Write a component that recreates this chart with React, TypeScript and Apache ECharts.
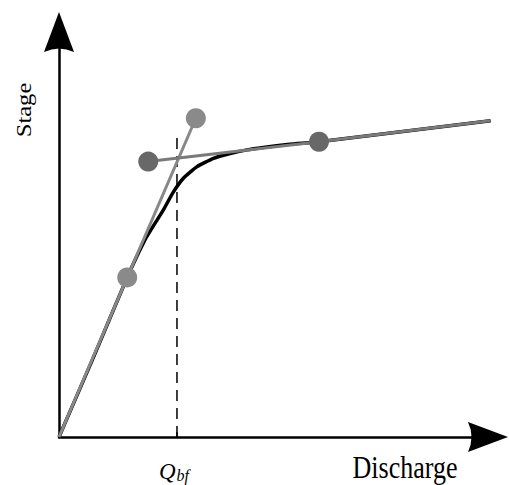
import React, { useEffect, useRef } from "react";
import * as echarts from "echarts";

// Rating curve (stage vs discharge), arbitrary units 0..100
const curveQ = [0, 8.0, 15.9, 20.0, 22.4, 24.3, 26.6, 29.0, 32.1, 36.0, 39.9, 43.8, 47.6, 53.8, 60.6, 100.6];
const curveH = [0, 19.6, 39.4, 48.6, 52.8, 56.0, 60.4, 63.9, 66.7, 68.8, 70.0, 70.9, 71.5, 72.3, 72.9, 78.1];

// In-channel tangent line (origin -> two marked points)
const steepQ = [0, 15.9, 31.9];
const steepH = [0, 39.4, 78.7];
const steepMarked = [false, true, true];

// Floodplain tangent line
const flatQ = [20.8, 60.6, 100.6];
const flatH = [68.0, 72.9, 78.1];
const flatMarked = [true, true, false];

// Bankfull discharge
const bankfullQ = 27.5;
const bankfullTop = 74.6;

const arrowPath = "path://M15,0 L30,40 Q15,33 0,40 Z";

export default function App() {
  const ref = useRef<HTMLDivElement>(null);
  useEffect(() => {
    if (!ref.current) return;
    document.body.style.margin = "0";
    const chart = echarts.init(ref.current, null, { renderer: "svg" });
    const serif = "Liberation Serif";
    chart.setOption({
      animation: false,
      backgroundColor: "#ffffff",
      grid: { left: 59, right: 21, top: 32, bottom: 48, outerBoundsMode: "none", containLabel: false },
      xAxis: {
        type: "value",
        min: 0,
        max: 100,
        splitLine: { show: false },
        axisLine: {
          show: true,
          lineStyle: { color: "#000", width: 2.5 },
          symbol: ["none", arrowPath],
          symbolSize: [30, 40],
        },
        axisTick: {
          show: true,
          inside: true,
          length: 5,
          customValues: [bankfullQ],
          lineStyle: { color: "#000", width: 1.5 },
        },
        axisLabel: {
          show: true,
          customValues: [bankfullQ],
          margin: 22,
          formatter: () => "{q|Q}{s|bf}",
          rich: {
            q: { fontFamily: serif, fontStyle: "italic", fontSize: 23, color: "#000" },
            s: { fontFamily: serif, fontStyle: "italic", fontSize: 16, color: "#000", padding: [8, 6, 0, 1] },
          },
        },
      },
      yAxis: {
        type: "value",
        min: 0,
        max: 100,
        splitLine: { show: false },
        axisLine: {
          show: true,
          lineStyle: { color: "#000", width: 2.5 },
          symbol: ["none", arrowPath],
          symbolSize: [30, 40],
        },
        axisTick: { show: false },
        axisLabel: { show: false },
      },
      graphic: [
        {
          type: "text",
          x: 24,
          y: 110,
          rotation: Math.PI / 2,
          scaleX: 1.17,
          style: {
            text: "Stage",
            fontFamily: serif,
            fontSize: 21,
            fill: "#000",
            align: "center",
            verticalAlign: "middle",
          },
        },
        {
          type: "text",
          x: 405,
          y: 467,
          scaleY: 1.25,
          style: {
            text: "Discharge",
            fontFamily: serif,
            fontSize: 26,
            fill: "#000",
            align: "center",
            verticalAlign: "middle",
          },
        },
      ],
      series: [
        {
          type: "line",
          data: curveQ.map((q, i) => [q, curveH[i]]),
          smooth: 0.15,
          symbol: "none",
          clip: false,
          lineStyle: { color: "#000", width: 3.5 },
          z: 2,
        },
        {
          type: "line",
          data: [
            [bankfullQ, 0],
            [bankfullQ, bankfullTop],
          ],
          symbol: "none",
          clip: false,
          lineStyle: { color: "#000", width: 1.5, type: [11, 7] },
          z: 3,
        },
        {
          type: "line",
          data: steepQ.map((q, i) => ({
            value: [q, steepH[i]],
            symbol: steepMarked[i] ? "circle" : "none",
          })),
          symbolSize: 20,
          clip: false,
          itemStyle: { color: "#8a8a8a" },
          lineStyle: { color: "#888888", width: 3 },
          z: 4,
        },
        {
          type: "line",
          data: flatQ.map((q, i) => ({
            value: [q, flatH[i]],
            symbol: flatMarked[i] ? "circle" : "none",
          })),
          symbolSize: 20,
          clip: false,
          itemStyle: { color: "#686868" },
          lineStyle: { color: "#7a7a7a", width: 3 },
          z: 5,
        },
      ],
    });
    return () => chart.dispose();
  }, []);
  return <div ref={ref} style={{ width: 509, height: 485 }} />;
}
